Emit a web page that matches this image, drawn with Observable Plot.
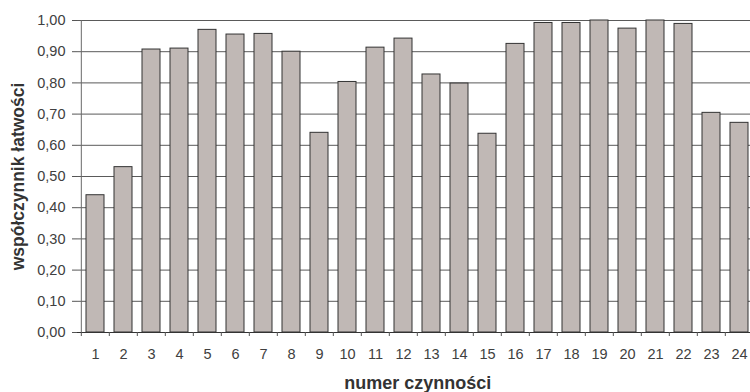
<!DOCTYPE html>
<html>
<head>
<meta charset="utf-8">
<script src="https://cdn.jsdelivr.net/npm/d3@7"></script>
<script src="https://cdn.jsdelivr.net/npm/@observablehq/plot@0.6"></script>
<style>
  html, body { margin: 0; padding: 0; background: #fff; overflow: hidden; }
  #chart svg { overflow: hidden; display: block; }
</style>
</head>
<body>
<div id="chart"></div>
<script>
const categories = ["1","2","3","4","5","6","7","8","9","10","11","12","13","14","15","16","17","18","19","20","21","22","23","24"];
const values = [0.44, 0.53, 0.907, 0.91, 0.97, 0.955, 0.957, 0.90, 0.64, 0.803, 0.913, 0.942, 0.827, 0.798, 0.637, 0.925, 0.992, 0.992, 1.00, 0.974, 1.00, 0.989, 0.704, 0.672];
const yTicks = [0, 0.1, 0.2, 0.3, 0.4, 0.5, 0.6, 0.7, 0.8, 0.9, 1.0];
const xLabel = "numer czynności";
const yLabel = "współczynnik łatwości";

const data = categories.map((c, i) => ({n: c, v: values[i]}));

const W = 750, H = 392;
const mL = 77, mR = -7.4, mT = 20, mB = 60;
const step = (W - mL - mR) / categories.length;
const fmt = d => d3.format(".2f")(d).replace(".", ",");

const chart = Plot.plot({
  width: W,
  height: H,
  marginLeft: mL,
  marginRight: mR,
  marginTop: mT,
  marginBottom: mB,
  style: {fontFamily: "'Liberation Sans', Arial, sans-serif", fontSize: "14px", color: "#404040", background: "#fff"},
  x: {type: "band", domain: categories, paddingInner: 0.35, paddingOuter: 0.175},
  y: {domain: [0, 1]},
  marks: [
    Plot.ruleY(yTicks.slice(1), {stroke: "#5a5a5a", strokeWidth: 1}),
    Plot.barY(data, {x: "n", y: "v", fill: "#c0b8b5", stroke: "#333", strokeWidth: 1}),
    Plot.ruleY([0], {stroke: "#333", strokeWidth: 1}),
    Plot.ruleX([categories[0]], {y1: 0, y2: 1, dx: -step / 2, stroke: "#6a6a6a", strokeWidth: 1}),
    Plot.axisY({ticks: yTicks, tickFormat: fmt, tickSize: 5, tickPadding: 7, fontSize: 14.5, fill: "#404040", stroke: "#555", label: null}),
    Plot.axisX({tickSize: 0, tickPadding: 16, fontSize: 14.5, fill: "#404040", label: null}),
    Plot.axisX({tickSize: 4, tickFormat: () => "", dx: -step / 2, stroke: "#555", label: null}),
    Plot.text([xLabel], {frameAnchor: "bottom", dy: 56, lineAnchor: "bottom", textAnchor: "middle", fontSize: 18, fontWeight: "bold", fill: "#333"}),
    Plot.text([yLabel], {frameAnchor: "left", dx: -53.5, rotate: -90, lineAnchor: "bottom", textAnchor: "middle", fontSize: 17.5, fontWeight: "bold", fill: "#333"})
  ]
});
document.getElementById("chart").appendChild(chart);
</script>
</body>
</html>
